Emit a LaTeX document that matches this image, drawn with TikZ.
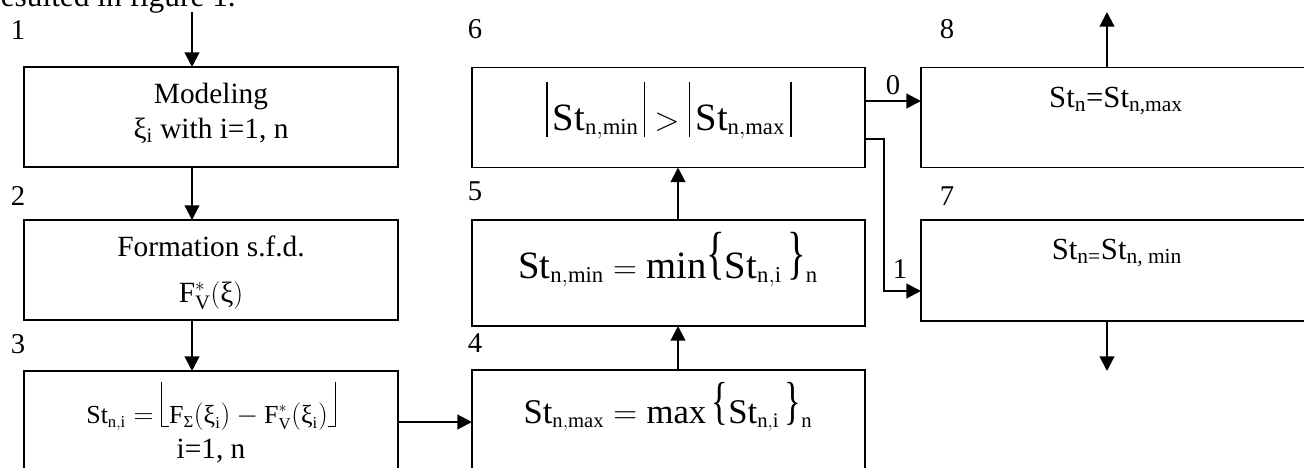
\documentclass[tikz,border=0pt]{standalone}
\usepackage{amsmath}
\usepackage{graphicx}
\usepackage{fontspec}
\setmainfont{Liberation Serif}
\usetikzlibrary{arrows.meta}
\DeclareMathSizes{29}{29}{17}{13}
\DeclareMathSizes{26}{26}{15.5}{12}
\DeclareMathSizes{19.5}{19.5}{12.5}{9.5}
% hand-made delimiters, placed as in the reference
\newcommand\flL{\mathopen{\rule[-3pt]{0.9pt}{34pt}\rule[-3pt]{5pt}{0.9pt}}}
\newcommand\flR{\mathclose{\rule[-3pt]{5pt}{0.9pt}\rule[-3pt]{0.9pt}{34pt}}}
\newcommand\vbarL{\mathopen{\rule[-5pt]{0.9pt}{41pt}\hspace{4pt}}}
\newcommand\vbarR{\mathclose{\hspace{4pt}\rule[-5pt]{0.9pt}{41pt}}}
\newcommand\brL[1]{\mathopen{\raisebox{#1}{\scalebox{1}[1.5]{\{}}}}
\newcommand\brR[1]{\mathclose{\raisebox{#1}{\scalebox{1}[1.5]{\}}}}}
\tikzset{
  box/.style={draw, line width=1.3pt, inner sep=0pt, outer sep=0pt},
  arr/.style={line width=1.6pt, -{Triangle[length=11pt,width=11pt]}},
  txt/.style={anchor=base, inner sep=0pt, font=\fontsize{22}{26}\selectfont},
  num/.style={anchor=base, inner sep=0pt, font=\fontsize{21.5}{26}\selectfont},
}
\begin{document}
\begin{tikzpicture}[x=0.75pt,y=-0.75pt]
\useasboundingbox (0,0) rectangle (1304,468);
\clip (0,0) rectangle (1304,468);
% cut-off line of running text
\node[txt, anchor=base east, font=\fontsize{23.5}{28}\selectfont] (head) at (236,6) {resulted in figure 1.};
% boxes
\node[box, minimum width=280.5pt, minimum height=75pt] (b1) at (211,117) {};
\node[box, minimum width=280.5pt, minimum height=75pt] (b2) at (211,270) {};
\node[box, minimum width=280.5pt, minimum height=111.75pt] (b3) at (211,445.5) {};
\node[box, minimum width=294.75pt, minimum height=112.5pt] (b4) at (668.5,445) {};
\node[box, minimum width=294.75pt, minimum height=79.5pt] (b5) at (668.5,273) {};
\node[box, minimum width=294.75pt, minimum height=75pt] (b6) at (668.5,117.5) {};
\node[box, minimum width=315pt, minimum height=75pt] (b8) at (1131,117.5) {};
\node[box, minimum width=315pt, minimum height=75.75pt] (b7) at (1131,270.5) {};
% box texts
\node[txt] (t1a) at (211,103) {Modeling};
\node[txt] (t1b) at (211,138) {ξ\textsubscript{i} with i=1, n};
\node[txt] (t2a) at (211,256) {Formation s.f.d.};
\node[txt] (t2b) at (211,302) {$\mathrm{F}^{*}_{\mathrm{V}}(\text{ξ})$};
\node[txt, font=\fontsize{19.5}{22}\selectfont] (t3a) at (211,423)
  {$\mathrm{St}_{\mathrm{n,i}} = \flL \mathrm{F}_{\text{Σ}}(\text{ξ}_{\mathrm{i}}) - \mathrm{F}^{*}_{\mathrm{V}}(\text{ξ}_{\mathrm{i}})\flR$};
\node[txt] (t3b) at (211,458) {i=1, n};
\node[txt, font=\fontsize{26}{30}\selectfont] (t4) at (668,423)
  {$\mathrm{St}_{\mathrm{n,max}} = \max\,\brL{3.1pt}\mathrm{St}_{\mathrm{n,i}}\,\brR{3.1pt}_{\mathrm{n}}$};
\node[txt, font=\fontsize{29}{34}\selectfont] (t5) at (668,278)
  {$\mathrm{St}_{\mathrm{n,min}} = \mathrm{min}\brL{4.5pt}\mathrm{St}_{\mathrm{n,i}}\,\brR{4.5pt}_{\mathrm{n}}$};
\node[txt, font=\fontsize{29}{34}\selectfont] (t6) at (669,130)
  {$\vbarL\mathrm{St}_{\mathrm{n,min}}\vbarR > \vbarL\mathrm{St}_{\mathrm{n,max}}\vbarR$};
\node[txt, font=\fontsize{23}{27}\selectfont] (t8) at (1116,107) {St\textsubscript{n}=St\textsubscript{n,max}};
\node[txt, font=\fontsize{23}{27}\selectfont] (t7) at (1117,259) {St\textsubscript{n=}St\textsubscript{n, min}};
% block numbers
\node[num] (n1) at (18,39) {1};
\node[num] (n2) at (18,205) {2};
\node[num] (n3) at (18,353) {3};
\node[num] (n4) at (475,352) {4};
\node[num] (n5) at (475,200) {5};
\node[num] (n6) at (475,38) {6};
\node[num] (n7) at (947,205) {7};
\node[num] (n8) at (947,38) {8};
% coordinates for connectors
\coordinate (in1) at (192,12);
\coordinate (c34) at (398,422);
\coordinate (x45) at (678,0);
\coordinate (c68) at (865,101);
\coordinate (c67) at (865,139);
\coordinate (k1) at (884,139);
\coordinate (k2) at (884,291);
\coordinate (out8) at (1107,12);
\coordinate (out7) at (1107,371);
% connectors
\draw[arr] (in1) -- (in1 |- b1.north);
\draw[arr] (in1 |- b1.south) -- (in1 |- b2.north);
\draw[arr] (in1 |- b2.south) -- (in1 |- b3.north);
\draw[arr] (c34) -- (c34 -| b4.west);
\draw[arr] (x45 |- b4.north) -- (x45 |- b5.south);
\draw[arr] (x45 |- b5.north) -- (x45 |- b6.south);
\draw[arr] (c68) -- (c68 -| b8.west);
\draw[arr] (c67) -- (k1) -- (k2) -- (k2 -| b7.west);
\draw[arr] (out8 |- b8.north) -- (out8);
\draw[arr] (out7 |- b7.south) -- (out7);
% branch labels
\node[num] (l0) at (893,94) {0};
\node[num] (l1) at (900,278) {1};
\end{tikzpicture}
\end{document}
